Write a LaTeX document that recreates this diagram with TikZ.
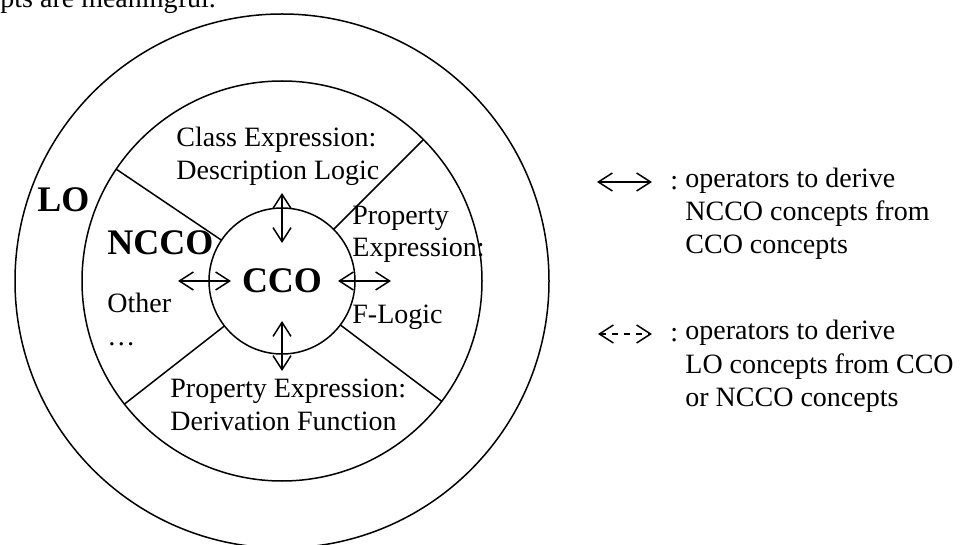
\documentclass[tikz,border=0pt]{standalone}
\usepackage{fontspec}
\setmainfont{Liberation Serif}
\usetikzlibrary{positioning, arrows.meta}

\begin{document}
\begin{tikzpicture}[x=0.5pt, y=-0.5pt]
	\tikzset{txt/.style={font=\fontsize{14}{16.5}\selectfont, inner sep=0pt, align=left, anchor=base west}}
	\tikzset{big/.style={font=\fontsize{18}{20}\selectfont\bfseries, inner sep=0pt, anchor=base west}}
	\tikzset{ring/.style={circle, draw, line width=0.75pt, inner sep=0pt, outer sep=0pt}}
	\tikzset{arr/.style={{Straight Barb[length=7pt, width=9pt]}-{Straight Barb[length=7pt, width=9pt]}, line width=0.75pt}}
	
	\useasboundingbox (0,0) rectangle (964,545);
	\clip (0,0) rectangle (964,545);
	
	\node[txt] (cut) at (0,8) {pts are meaningful.};
	
	% the three rings
	\node[ring, minimum size=267pt] (lo ring) at (282,281) {};
	\node[ring, minimum size=200pt] (ncco ring) at (282,281) {};
	\node[ring, minimum size=73pt, font=\fontsize{18}{20}\selectfont\bfseries] (cco) at (282,281) {CCO};
	
	\foreach \a in {146, 45, 218, 323}
		\draw[line width=0.75pt] (cco.\a) -- (ncco ring.\a);
	
	\draw[arr] ([yshift=7.5pt]cco.north) -- ([yshift=-17.5pt]cco.north);
	\draw[arr] ([yshift=-8.5pt]cco.south) -- ([yshift=16.5pt]cco.south);
	\draw[arr] ([xshift=-15.5pt]cco.west) -- ([xshift=11pt]cco.west);
	\draw[arr] ([xshift=-8.5pt]cco.east) -- ([xshift=18pt]cco.east);
	
	% multi-line texts sit on their last line
	\node[big] (lo) at (37,212) {LO};
	\node[big] (ncco) at (107,255) {NCCO};
	\node[txt] (other) at (107,345) {Other\\\dots};
	\node[txt] (class expr) at (176,180) {Class Expression:\\Description Logic};
	\node[txt] (prop expr) at (352,323) {Property\\Expression:\\[16.5pt]F-Logic};
	\node[txt] (deriv) at (170,430) {Property Expression:\\Derivation Function};
	
	% key
	\coordinate (key a) at (597,182);
	\coordinate (key b) at (652,182);
	\draw[arr] (key a) -- (key b);
	\node[txt] (colon a) at (670,190) {:};
	\node[txt] (key text a) at (685,254) {operators to derive\\NCCO concepts from\\CCO concepts};
	
	\coordinate (key c) at (598,334);
	\coordinate (key d) at (652,334);
	\draw[arr, dash pattern=on 3pt off 3pt] (key c) -- (key d);
	\node[txt] (colon b) at (670,342) {:};
	\node[txt] (key text b) at (685,406) {operators to derive\\LO concepts from CCO\\or NCCO concepts};
\end{tikzpicture}
\end{document}
